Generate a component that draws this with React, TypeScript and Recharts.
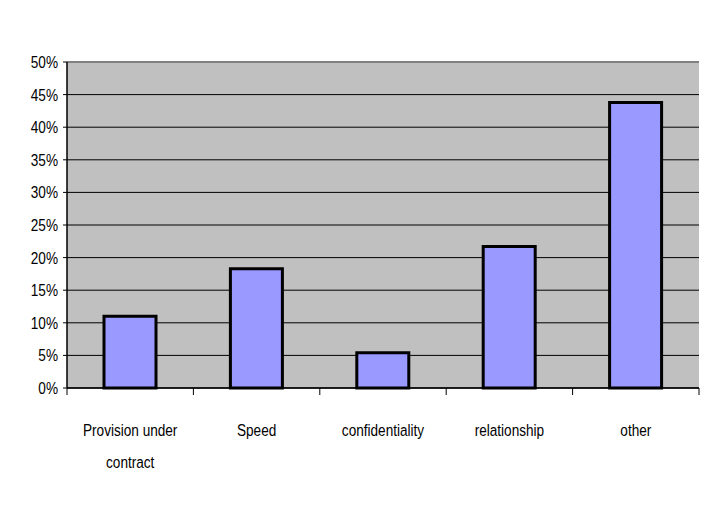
import React from 'react';
import {
  BarChart,
  Bar,
  XAxis,
  YAxis,
  CartesianGrid,
  ReferenceLine,
  Text
} from 'recharts';

const categories = ['Provision under contract', 'Speed', 'confidentiality', 'relationship', 'other'];
const shares = [11.0, 18.3, 5.4, 21.7, 43.8];
const yTicks = [0, 5, 10, 15, 20, 25, 30, 35, 40, 45, 50];

const FONT = '"Liberation Sans", Arial, sans-serif';
const SQUEEZE = 0.8; // the original labels use a narrow face
const W = 713;
const H = 516;

const data = categories.map((name, i) => ({ name, value: shares[i] }));

// label under each category, plus tick marks on the category boundaries
const CategoryTick = (props: any) => {
  const { x, y, payload, index } = props;
  const half = payload.offset || 0;
  const last = index === categories.length - 1;
  return (
    <g>
      <line x1={x - half} x2={x - half} y1={y} y2={y + 7} stroke="#000" />
      {last && <line x1={x + half} x2={x + half} y1={y} y2={y + 7} stroke="#000" />}
      {/* picture frame: only its top and left edges fall inside the image */}
      {index === 0 && (
        <path d={`M7,${H} V6 H${W}`} fill="none" stroke="#222" strokeWidth={2} />
      )}
      <g transform={`translate(${x},${y + 36}) scale(${SQUEEZE},1)`}>
        <Text
          x={0}
          y={0}
          width={120 / SQUEEZE}
          textAnchor="middle"
          verticalAnchor="start"
          lineHeight={32}
          fontSize={17}
          fontFamily={FONT}
          fill="#000"
        >
          {payload.value}
        </Text>
      </g>
    </g>
  );
};

const PercentTick = (props: any) => {
  const { x, y, payload } = props;
  return (
    <g transform={`translate(${x},${y}) scale(${SQUEEZE},1)`}>
      <text x={0} y={0} dy="0.355em" textAnchor="end" fontSize={17} fontFamily={FONT} fill="#000">
        {`${payload.value}%`}
      </text>
    </g>
  );
};

export default function App() {
  return (
    <div style={{ width: W, height: H, margin: -8, background: '#fff' }}>
      <BarChart
        width={W}
        height={H}
        data={data}
        margin={{ top: 62, right: 14, left: 0, bottom: 98 }}
        barSize={52}
      >
        <CartesianGrid fill="#C0C0C0" stroke="#000" vertical={false} />
        <XAxis
          dataKey="name"
          interval={0}
          height={30}
          tickSize={0}
          tickMargin={0}
          axisLine={{ stroke: '#000', strokeWidth: 1.5 }}
          tickLine={false}
          tick={<CategoryTick />}
        />
        <YAxis
          domain={[0, 50]}
          ticks={yTicks}
          width={67}
          tickSize={4}
          tickMargin={5}
          axisLine={{ stroke: '#000', strokeWidth: 1.5 }}
          tickLine={{ stroke: '#000' }}
          tick={<PercentTick />}
        />
        <YAxis
          yAxisId="r"
          orientation="right"
          domain={[0, 50]}
          width={0}
          tick={false}
          tickLine={false}
          axisLine={{ stroke: '#808080', strokeWidth: 2 }}
        />
        <ReferenceLine y={50} stroke="#808080" strokeWidth={2} />
        <Bar
          dataKey="value"
          fill="#9999FF"
          stroke="#000"
          strokeWidth={3}
          isAnimationActive={false}
        />
      </BarChart>
    </div>
  );
}
